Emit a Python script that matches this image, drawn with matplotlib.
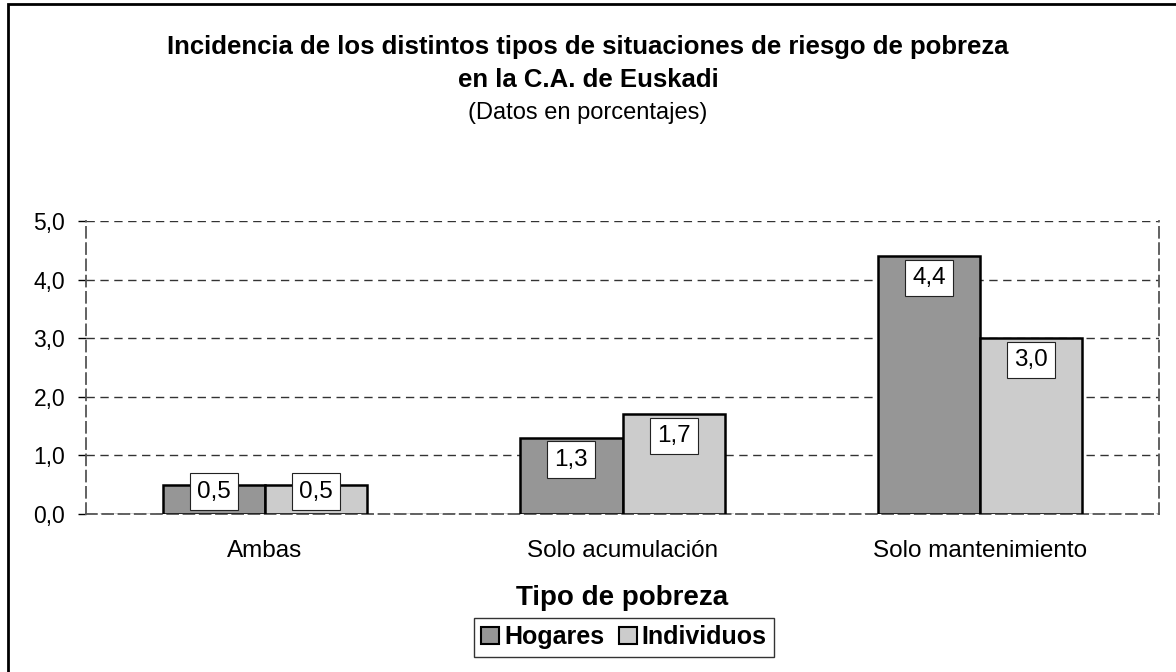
import matplotlib
matplotlib.use("Agg")
import matplotlib.pyplot as plt
import matplotlib.patches as mpatches
import numpy as np

plt.rcParams['font.family'] = ['Liberation Sans', 'DejaVu Sans']

categories = ["Ambas", "Solo acumulación", "Solo mantenimiento"]
hogares = [0.5, 1.3, 4.4]
individuos = [0.5, 1.7, 3.0]
series_names = ["Hogares", "Individuos"]
yticks = [0.0, 1.0, 2.0, 3.0, 4.0, 5.0]

colors = ["#969696", "#cccccc"]
W, H = 1176, 672

fig = plt.figure(figsize=(W / 100, H / 100), dpi=100)
ax = fig.add_axes([86 / W, 1 - 514 / H, (1159 - 86) / W, (514 - 221) / H])

x = np.arange(len(categories))
bw = 0.286
for i, vals in enumerate([hogares, individuos]):
    pos = x + (i - 0.5) * bw
    ax.bar(pos, vals, bw, color=colors[i], edgecolor="black",
           linewidth=1.8, label=series_names[i], zorder=3)
    for xi, v in zip(pos, vals):
        yc = max(v - 0.37, 0.38)
        ax.text(xi, yc, f"{v:.1f}".replace(".", ","), ha="center", va="center",
                fontsize=17.5, zorder=5,
                bbox=dict(boxstyle="square,pad=0.3", fc="white", ec="#222222", lw=0.8))

ax.set_xlim(-0.5, 2.5)
ax.set_ylim(0, 5)
ax.set_yticks(yticks)
ax.set_yticklabels([f"{t:.1f}".replace(".", ",") for t in yticks], fontsize=16.5)
ax.set_xticks(x)
ax.set_xticklabels(categories, fontsize=17.5)
ax.tick_params(axis="x", length=0, pad=19)
ax.tick_params(axis="y", length=6, width=1, direction="out", pad=9)
ax.yaxis.grid(True, linestyle=(0, (6, 4)), color="#333333", linewidth=1, zorder=0)
for s in ["left", "right", "bottom"]:
    ax.spines[s].set_linestyle((0, (6, 3)))
    ax.spines[s].set_color("#555555")
    ax.spines[s].set_linewidth(1.3)
ax.spines["top"].set_visible(False)

fig.text(0.5, 1 - 47 / H, "Incidencia de los distintos tipos de situaciones de riesgo de pobreza",
         ha="center", va="center", fontsize=18.5, fontweight="bold")
fig.text(0.5, 1 - 80 / H, "en la C.A. de Euskadi", ha="center", va="center",
         fontsize=18.5, fontweight="bold")
fig.text(0.5, 1 - 113 / H, "(Datos en porcentajes)", ha="center", va="center", fontsize=17)

fig.text(622 / W, 1 - 598 / H, "Tipo de pobreza", ha="center", va="center",
         fontsize=20, fontweight="bold")

leg = fig.legend(handles=[mpatches.Patch(fc=colors[i], ec="black", lw=1.5, label=series_names[i])
                          for i in range(2)],
                 loc="center", bbox_to_anchor=(624 / W, 1 - 637 / H), ncol=2,
                 frameon=True, fancybox=False, edgecolor="black",
                 prop={"weight": "bold", "size": 18}, handlelength=0.7, handleheight=0.7,
                 handletextpad=0.2, columnspacing=0.6, borderpad=0.3, borderaxespad=0)
leg.get_frame().set_linewidth(1)

border = mpatches.Rectangle((8 / W, -0.1), 1.2, 1 - 4 / H + 0.1, transform=fig.transFigure,
                            fill=False, ec="black", lw=2, clip_on=False)
fig.patches.append(border)

fig.savefig("out.png", dpi=100)
